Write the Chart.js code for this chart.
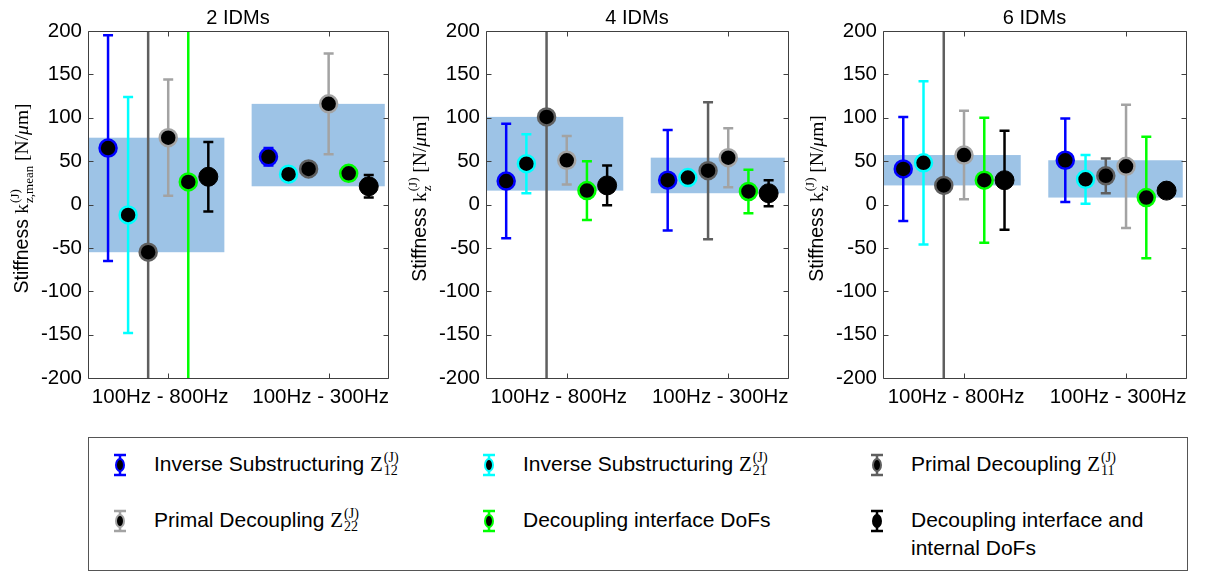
<!DOCTYPE html>
<html lang="en">
<head>
<meta charset="UTF-8" />
<script src="https://cdn.jsdelivr.net/npm/chart.js@4.4.1/dist/chart.umd.min.js"></script>
<title>Stiffness per IDM count</title>
<style>
  body { margin: 0; background: #fff; font-family: "Liberation Sans", Arial, sans-serif; }
  .wrap { position: relative; width: 1205px; height: 572px; overflow: hidden; }
  .wrap canvas { position: absolute; top: 0; }
  .legend_box { position: absolute; left: 88px; top: 437px; width: 1100px; height: 134px;
    border: 1px solid #555; box-sizing: border-box; }
  .item { position: absolute; font-size: 21px; color: #000; line-height: 28px; }
  .item svg { position: absolute; left: -42px; top: 3px; }
  .item .txt { display: inline-block; width: 270px; }
  .mz { font-family: "Liberation Serif", serif; }
  .ss { display: inline-flex; flex-direction: column; vertical-align: 9px;
    font-family: "Liberation Serif", serif; font-size: 14px; line-height: 13px; margin-left: 1px; }
</style>
</head>
<body>
<div class="wrap" id="wrap">
  <div class="legend_box" id="legend"></div>
</div>

<script>
  // data
  const categories = ["100Hz - 800Hz", "100Hz - 300Hz"];
  const panelTitles = ["2 IDMs", "4 IDMs", "6 IDMs"];
  const seriesNames = [
    "Inverse Substructuring Z",
    "Inverse Substructuring Z",
    "Primal Decoupling Z",
    "Primal Decoupling Z",
    "Decoupling interface DoFs",
    "Decoupling interface and internal DoFs",
  ];
  const seriesSubs = ["12", "21", "11", "22", "", ""];
  const seriesColors = ["#0000ff", "#00ffff", "#5f5f5f", "#a3a3a3", "#00ff00", "#000000"];

  // mean stiffness per series, [100-800Hz, 100-300Hz]
  const mean2 = [[65, 55], [-12, 35], [-55, 41], [77, 116], [26, 36], [32, 21]];
  const err2 = [[130, 10], [136, 3], [320, 3], [67, 58], [300, 3], [40, 13]];
  const mean4 = [[27, 28], [47, 31], [101, 39], [51, 54], [16, 15], [22, 13]];
  const err4 = [[66, 58], [34, 2], [320, 79], [28, 34], [34, 25], [23, 15]];
  const mean6 = [[41, 51], [48, 29], [22, 33], [57, 44], [28, 8], [28, 16]];
  const err6 = [[60, 48], [94, 28], [300, 20], [51, 71], [72, 70], [57, 5]];

  const yTicks = [-200, -150, -100, -50, 0, 50, 100, 150, 200];

  const panels = [
    { title: panelTitles[0], means: mean2, errs: err2, sub: "z,mean" },
    { title: panelTitles[1], means: mean4, errs: err4, sub: "z" },
    { title: panelTitles[2], means: mean6, errs: err6, sub: "z" },
  ];

  const panelLeft = [88, 486, 883];
  const panelWidth = [300, 302, 303];
  const axisColor = "#404040";
  const bandColor = "#9dc3e6";
  const sans = '"Liberation Sans", Arial, sans-serif';
  const serif = '"Liberation Serif", "Times New Roman", serif';

  // shaded band spanning the means of each group, then the error bars
  const errorBars = {
    id: "errorBars",
    beforeDatasetsDraw(chart) {
      const { ctx, chartArea: a } = chart;
      const x = chart.scales.x, y = chart.scales.y;
      ctx.save();
      ctx.beginPath();
      ctx.rect(a.left, a.top, a.width, a.height);
      ctx.clip();
      ctx.fillStyle = bandColor;
      categories.forEach((c, g) => {
        const ms = chart.data.datasets.map((d) => d.data[g].y);
        const top = y.getPixelForValue(Math.max(...ms));
        const bot = y.getPixelForValue(Math.min(...ms));
        const x0 = g === 0 ? a.left : x.getPixelForValue(g + 1 - 0.48);
        const x1 = x.getPixelForValue(g + 1 + 0.35);
        ctx.fillRect(x0, top, x1 - x0, bot - top);
      });
      chart.data.datasets.forEach((d, i) => {
        ctx.strokeStyle = d.borderColor;
        ctx.lineWidth = 2.5;
        chart.getDatasetMeta(i).data.forEach((pt, g) => {
          const v = d.data[g].y, e = d.errs[g];
          const yt = y.getPixelForValue(v + e), yb = y.getPixelForValue(v - e);
          ctx.beginPath();
          ctx.moveTo(pt.x, yt); ctx.lineTo(pt.x, yb);
          ctx.moveTo(pt.x - 5, yt); ctx.lineTo(pt.x + 5, yt);
          ctx.moveTo(pt.x - 5, yb); ctx.lineTo(pt.x + 5, yb);
          ctx.stroke();
        });
      });
      ctx.restore();
    },
  };

  // text made of pieces: plain runs and stacked sup/sub pairs
  function measureRich(ctx, parts) {
    let w = 0;
    parts.forEach((p) => {
      if (p.t !== undefined) { ctx.font = p.f; p.w = ctx.measureText(p.t).width; }
      else {
        ctx.font = "13px " + serif;
        p.w = Math.max(ctx.measureText(p.sup).width, ctx.measureText(p.sub).width) + 1;
      }
      w += p.w;
    });
    return w;
  }
  function drawRich(ctx, parts, x0, base) {
    let x = x0;
    parts.forEach((p) => {
      if (p.t !== undefined) { ctx.font = p.f; ctx.fillText(p.t, x, base); }
      else {
        ctx.font = "13px " + serif;
        ctx.fillText(p.sup, x + 1, base - 9);
        ctx.fillText(p.sub, x + 1, base + 5);
      }
      x += p.w;
    });
  }

  // box, inward ticks, panel title and y label
  const frame = {
    id: "frame",
    afterDraw(chart) {
      const { ctx, chartArea: a } = chart;
      const x = chart.scales.x, y = chart.scales.y;
      const l = Math.round(a.left) + 0.5, r = Math.round(a.right) + 0.5;
      const t = Math.round(a.top) + 0.5, b = Math.round(a.bottom) + 0.5;
      ctx.save();
      ctx.strokeStyle = axisColor;
      ctx.lineWidth = 1;
      ctx.beginPath();
      ctx.rect(l, t, r - l, b - t);
      yTicks.forEach((v) => {
        const py = Math.round(y.getPixelForValue(v)) + 0.5;
        ctx.moveTo(l, py); ctx.lineTo(l + 5, py);
        ctx.moveTo(r, py); ctx.lineTo(r - 5, py);
      });
      categories.forEach((c, g) => {
        const px = Math.round(x.getPixelForValue(g + 1)) + 0.5;
        ctx.moveTo(px, b); ctx.lineTo(px, b - 5);
        ctx.moveTo(px, t); ctx.lineTo(px, t + 5);
      });
      ctx.stroke();

      const p = chart.options.plugins.frame;
      ctx.fillStyle = "#000";
      ctx.font = "20px " + sans;
      ctx.textAlign = "center";
      ctx.textBaseline = "alphabetic";
      ctx.fillText(p.title, (a.left + a.right) / 2, 24);

      const parts = [
        { t: "Stiffness ", f: "19.5px " + sans },
        { t: "k", f: "19.5px " + serif },
        { sup: "(J)", sub: p.sub },
        { t: " [N/", f: "19.5px " + serif },
        { t: "\u03bc", f: "italic 19.5px " + serif },
        { t: "m]", f: "19.5px " + serif },
      ];
      ctx.textAlign = "left";
      const w = measureRich(ctx, parts);
      ctx.translate(a.left - 67, (a.top + a.bottom) / 2 - 6);
      ctx.rotate(-Math.PI / 2);
      drawRich(ctx, parts, -w / 2, 7);
      ctx.restore();
    },
  };

  const tickFont = { family: sans, size: 20.5 };
  const wrap = document.getElementById("wrap");

  panels.forEach((p, k) => {
    const cv = document.createElement("canvas");
    cv.width = 88 + panelWidth[k] + 20;
    cv.height = 420;
    cv.style.left = panelLeft[k] - 88 + "px";
    wrap.appendChild(cv);

    const datasets = seriesNames.map((name, i) => ({
      label: name,
      data: categories.map((c, g) => ({ x: g + 1 + (i - 3) * 0.125, y: p.means[i][g] })),
      errs: p.errs[i],
      backgroundColor: "#000",
      borderColor: seriesColors[i],
      borderWidth: i === 5 ? 1 : 2.5,
      pointRadius: i === 5 ? 9.5 : 8.5,
      pointHoverRadius: i === 5 ? 9.5 : 8.5,
    }));

    new Chart(cv, {
      type: "scatter",
      data: { datasets },
      plugins: [errorBars, frame],
      options: {
        responsive: false,
        animation: false,
        layout: { padding: { top: 31, right: 20, left: 0, bottom: 0 } },
        plugins: {
          legend: { display: false },
          tooltip: { enabled: false },
          frame: { title: p.title, sub: p.sub },
        },
        scales: {
          x: {
            type: "linear",
            min: 0.5,
            max: 2.37,
            grid: { display: false, drawTicks: false, tickLength: 0 },
            border: { display: false },
            afterBuildTicks: (s) => { s.ticks = categories.map((c, g) => ({ value: g + 1 })); },
            ticks: {
              callback: (v) => categories[v - 1] ?? "",
              font: tickFont,
              color: "#000",
              padding: 7,
              labelOffset: -8,
              maxRotation: 0,
              autoSkip: false,
            },
            afterFit: (s) => { s.height = 42; s.paddingLeft = 0; s.paddingRight = 0; },
          },
          y: {
            min: -200,
            max: 200,
            grid: { display: false, drawTicks: false, tickLength: 0 },
            border: { display: false },
            afterBuildTicks: (s) => { s.ticks = yTicks.map((v) => ({ value: v })); },
            ticks: { font: tickFont, color: "#000", padding: 6 },
            afterFit: (s) => { s.width = 88; s.paddingTop = 0; s.paddingBottom = 0; },
          },
        },
      },
    });
  });

  // legend: errorbar glyph plus label, three per row
  const legend = document.getElementById("legend");
  const colX = [65, 434, 822];
  const rowY = [12, 68];
  seriesNames.forEach((name, i) => {
    const it = document.createElement("div");
    it.className = "item";
    it.style.left = colX[i % 3] + "px";
    it.style.top = rowY[Math.floor(i / 3)] + "px";
    const c = seriesColors[i];
    let label = name;
    if (seriesSubs[i]) {
      label = name.slice(0, -1) + '<span class="mz">Z</span><span class="ss"><span>(J)</span><span>' +
        seriesSubs[i] + "</span></span>";
    }
    it.innerHTML =
      '<svg width="16" height="24" viewBox="0 0 16 24">' +
      '<path d="M8 2V22M2 2H14M2 22H14" stroke="' + c + '" stroke-width="2.5" fill="none"/>' +
      '<ellipse cx="8" cy="12" rx="4" ry="6" fill="#000" stroke="' + c + '" stroke-width="2"/></svg>' +
      '<span class="txt">' + label + "</span>";
    legend.appendChild(it);
  });
</script>
</body>
</html>
